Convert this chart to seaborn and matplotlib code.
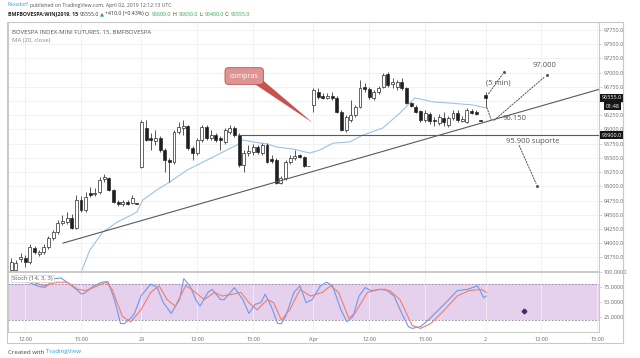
import matplotlib
matplotlib.use("Agg")
import matplotlib.pyplot as plt
from matplotlib.patches import Polygon, Rectangle
from matplotlib.ticker import FuncFormatter
import numpy as np
import seaborn as sns

sns.set_theme(style="white")
plt.rcParams["font.family"] = ["Open Sans", "DejaVu Sans"]

# ------------------------------------------------------------
# data (15 min candles: 28 Mar partial, 29 Mar, 1 Apr, 2 Apr first candle)
# ------------------------------------------------------------
opens = [93525, 93525, 93720, 93735, 93665, 93915, 93810, 93845, 93930, 94090, 94195, 94355, 94370, 94440,
         94265, 94760, 94580, 94880, 94865, 94900, 95130, 95145, 94935, 94725, 94690, 94725, 94705, 94700,
         95340, 96025, 95850, 95795, 95850, 95640, 95460, 95425, 95955, 96025, 96060, 95675, 95585, 95815,
         96045, 95850, 95900, 95850, 95780, 95955, 96025, 95900, 95375, 95585, 95605, 95690, 95585, 95725,
         95480, 95460, 95055, 95145, 95425, 95495, 95550, 95515, 95360,
         96430, 96660, 96590, 96555, 96590, 96555, 96305, 95990, 96165, 96255, 96395, 96745, 96710, 96555,
         96660, 96745, 96975, 96800, 96745, 96835, 96730, 96465, 96395, 96325, 96165, 96270, 96165, 96115,
         96200, 96080, 96200, 96290, 96150, 96130, 96325, 96305, 96165,
         96600]
closes = [93665, 93650, 93755, 93665, 93930, 93845, 93845, 93930, 94090, 94195, 94355, 94390, 94440, 94265,
          94760, 94580, 94810, 94845, 94880, 95110, 95165, 94935, 94725, 94690, 94725, 94690, 94795, 94690,
          96130, 95815, 95815, 95850, 95640, 95460, 95425, 95955, 96045, 96060, 95675, 95585, 95815, 96045,
          95850, 95900, 95815, 95815, 95990, 96025, 95900, 95375, 95585, 95620, 95690, 95605, 95725, 95425,
          95445, 95055, 95145, 95425, 95495, 95530, 95515, 95355, 95355,
          96695, 96570, 96555, 96590, 96555, 96305, 95990, 96220, 96255, 96395, 96730, 96710, 96570, 96660,
          96730, 96960, 96780, 96835, 96835, 96730, 96465, 96410, 96305, 96165, 96290, 96150, 96150, 96220,
          96130, 96200, 96290, 96165, 96185, 96340, 96290, 96270, 96150,
          96555]
highs = [93735, 93700, 93825, 93790, 93985, 93950, 93880, 93985, 94125, 94230, 94405, 94495, 94545, 94510,
         94845, 94830, 94900, 94985, 94970, 95165, 95215, 95165, 94950, 94760, 94760, 94760, 94845, 94705,
         96165, 96165, 95935, 95990, 95885, 95675, 95495, 95990, 96130, 96165, 96080, 95710, 95850, 96080,
         96080, 95990, 95935, 95885, 96025, 96080, 96060, 95935, 95640, 95725, 95745, 95725, 95760, 95760,
         95550, 95495, 95180, 95460, 95550, 95640, 95570, 95530, 95365,
         96730, 96730, 96640, 96640, 96660, 96590, 96340, 96255, 96520, 96430, 96870, 96815, 96745, 96695,
         96765, 96995, 97010, 96905, 96870, 96905, 96745, 96485, 96430, 96340, 96340, 96305, 96220, 96270,
         96305, 96235, 96340, 96340, 96235, 96375, 96360, 96340, 96165,
         96650]
lows = [93510, 93510, 93665, 93580, 93630, 93810, 93770, 93810, 93895, 94055, 94160, 94320, 94335, 94250,
        94250, 94545, 94545, 94810, 94830, 94865, 95075, 94915, 94705, 94650, 94650, 94670, 94690, 94685,
        95320, 95795, 95640, 95725, 95605, 95250, 95075, 95390, 95920, 95900, 95640, 95460, 95550, 95780,
        95815, 95815, 95780, 95640, 95745, 95920, 95865, 95340, 95250, 95530, 95550, 95570, 95550, 95410,
        95410, 95040, 95040, 95110, 95390, 95460, 95495, 95340, 95350,
        96305, 96535, 96535, 96535, 96520, 96290, 95970, 95955, 96130, 96220, 96375, 96660, 96535, 96520,
        96625, 96730, 96745, 96730, 96695, 96695, 96450, 96395, 96290, 96130, 96130, 96095, 96060, 96080,
        96060, 96045, 96165, 96130, 96130, 96115, 96270, 96255, 96150,
        96400]

# MA (20, close)
ma_x = [15.2, 16.9, 19.7, 22.8, 27.0, 28.3, 31.3, 34.1, 36.3, 37.8, 42.1, 46.4, 48.5, 49.8, 52.0,
        55.0, 57.1, 60.6, 64.2, 66.4, 69.2, 72.8, 75.6, 79.9, 83.6, 86.8, 90.7, 94.3, 99.3, 102.3]
ma_val = [93525, 93880, 94195, 94370, 94545, 94760, 94935, 95075, 95200, 95285, 95460, 95640, 95725,
          95815, 95780, 95745, 95690, 95655, 95585, 95640, 95760, 95780, 95900, 96025, 96290, 96555,
          96485, 96465, 96430, 96375]

# Stochastic %K and %D
k_x = [0.2, 2.8, 5.5, 7.2, 9.4, 10.7, 12.5, 14.3, 15.1, 16, 17.8, 19.5, 20.8, 22.2, 23.5, 24.3, 25.7,
       26.5, 27.9, 30, 31.4, 32.7, 34.4, 36.2, 37.1, 38.4, 39.7, 40.6, 42.3, 43.2, 45, 45.8, 48, 49.8,
       51.1, 52.4, 53.7, 54.6, 55.9, 57.3, 58.1, 59, 60.8, 62.1, 63.4, 64.7, 66.5, 67.8, 69.1, 70.9,
       72.2, 73.5, 74.8, 76.1, 77.4, 79.2, 80.5, 82.3, 84, 85.4, 86.2, 88, 89.7, 91.9, 94.1, 95.9, 98.1,
       100.3, 101.6, 102.2]
k_val = [91, 86, 77, 74, 89, 90, 80, 69, 63, 66, 77, 83, 84, 54, 14, 14, 23, 31, 60, 80, 74, 49, 31,
         54, 89, 77, 54, 43, 66, 71, 54, 54, 74, 54, 31, 46, 49, 63, 43, 14, 14, 26, 66, 77, 49, 54, 77,
         83, 77, 37, 17, 26, 60, 74, 69, 71, 71, 60, 31, 9, 6, 9, 20, 37, 54, 69, 71, 77, 57, 60]
d_x = [1.1, 4.6, 7.2, 9.9, 12, 14.3, 16, 18.6, 20.4, 21.7, 23.9, 25.7, 27.9, 30, 31.8, 33.5, 35.3, 37.5,
       38.8, 41.5, 43.7, 45.4, 47.6, 49.4, 51.1, 52.9, 55.1, 56.4, 58.1, 59.9, 62.1, 64.3, 66.9, 68.7,
       70.4, 72.6, 73.9, 76.6, 79.2, 81.4, 83.6, 86.2, 88, 90.2, 93.2, 95.9, 98.5, 101.1, 102.2]
d_val = [94, 83, 77, 83, 83, 71, 69, 77, 83, 71, 26, 17, 37, 66, 77, 54, 43, 77, 71, 54, 66, 60, 63, 66,
         49, 37, 54, 49, 20, 37, 71, 60, 66, 77, 66, 23, 31, 66, 71, 69, 54, 11, 6, 14, 37, 60, 69, 71, 66]

# drawings
trend_x = [11.1, 126.4]
trend_y = [94000, 96705]
support_x = [48.8, 126.4]
support_y = [95900, 95900]

tick_pos = [3, 15, 28, 40, 52, 65, 77, 89, 102, 114, 126]
tick_labels = ["12:00", "15:00", "29", "12:00", "15:00", "Apr", "12:00", "15:00", "2", "12:00", "15:00"]

W, H = 640, 358
fig = plt.figure(figsize=(W / 100, H / 100), dpi=100)
fig.patch.set_facecolor("white")
renderer = fig.canvas.get_renderer()


def fx(px):
    return px / W


def fy(py):
    return 1 - py / H


def text_run(x_px, y_px, parts, size=4.4, gap=1.6):
    # writes pieces of text one after the other on a line
    for txt, color, weight in parts:
        t = fig.text(fx(x_px), fy(y_px), txt, fontsize=size, color=color, fontweight=weight, va="center")
        x_px += t.get_window_extent(renderer=renderer).width + gap


ax = fig.add_axes([fx(8), fy(271), fx(599) - fx(8), fy(22) - fy(271)])
axs = fig.add_axes([fx(8), fy(332), fx(599) - fx(8), fy(272) - fy(332)], sharex=ax)

GRID = "#f0f0f0"
EDGE = "#c9c9c9"
TXT = "#6b6b6b"

# ---------------- candles ----------------
idx = np.arange(len(opens))
o = np.array(opens)
c = np.array(closes)
up = c >= o
ax.vlines(idx, lows, highs, color="#3a3a3a", lw=0.6, zorder=3)
body_h = np.maximum(np.abs(c - o), 10)
ax.bar(idx, body_h, bottom=np.minimum(o, c), width=0.64,
       color=np.where(up, "white", "#1f1f1f"), edgecolor="#2a2a2a", linewidth=0.5, zorder=4)

sns.lineplot(x=ma_x, y=ma_val, ax=ax, color="#9fc2e3", lw=0.8, zorder=2)

ax.plot(trend_x, trend_y, color="#5a5a5a", lw=0.8, zorder=5)
ax.plot(support_x, support_y, color="#5a5a5a", lw=0.8, zorder=5)

# projections
dash = dict(arrowstyle="-", color="#555555", lw=0.7, linestyle=(0, (1.5, 1.5)))
ax.annotate("", xy=(106.0, 97010), xytext=(102.3, 96590), arrowprops=dash, zorder=6)
ax.annotate("", xy=(103.4, 96130), xytext=(102.1, 96430), arrowprops=dash, zorder=6)
ax.annotate("", xy=(115.2, 96960), xytext=(103.4, 96130), arrowprops=dash, zorder=6)
ax.annotate("", xy=(113.1, 95005), xytext=(109.0, 95760), arrowprops=dash, zorder=6)
ax.plot([106.0, 115.2, 113.1], [97010, 96960, 95005], ls="none", marker="o", ms=1.2, color="#555555")

ax.text(114.8, 97060, "97.000", fontsize=5.5, color="#555555", ha="center", va="bottom")
ax.text(104.7, 96810, "(5 min)", fontsize=5.5, color="#555555", ha="center", va="center")
ax.text(108.3, 96200, "96.150", fontsize=5.5, color="#555555", ha="center", va="center")
ax.text(106.5, 95790, "95.900 suporte", fontsize=5.5, color="#555555", ha="left", va="center")

# callout "compras"
ax.add_patch(Polygon([(51.6, 96840), (53.6, 96900), (64.9, 96113)], closed=True,
                     fc="#c9514f", ec="none", zorder=6))
ax.text(50.1, 96940, "compras", fontsize=5, color="white", ha="center", va="center", zorder=7,
        bbox=dict(boxstyle="round,pad=0.7,rounding_size=0.5", fc="#df9393", ec="#bd5454", lw=0.6))

ax.set_xlim(-0.7, 126.4)
ax.set_ylim(93510, 97890)
ax.set_xticks(tick_pos)
ax.yaxis.tick_right()
ax.set_yticks(np.arange(93750, 97751, 250))
ax.yaxis.set_major_formatter(FuncFormatter(lambda v, p: f"{v:.1f}"))
ax.tick_params(axis="y", labelsize=4, colors=TXT, length=2, width=0.5, pad=1.5, color=EDGE)
ax.tick_params(axis="x", length=0, labelbottom=False)
ax.grid(True, color=GRID, lw=0.6)
ax.set_axisbelow(True)
for s in ax.spines.values():
    s.set_color(EDGE)
    s.set_linewidth(0.7)

ax.text(0.007, 0.97, "BOVESPA INDEX-MINI FUTURES, 15, BMFBOVESPA", transform=ax.transAxes,
        fontsize=4.3, color="#555555", va="top")
ax.text(0.007, 0.935, "MA (20, close)", transform=ax.transAxes, fontsize=4.3, color="#888888", va="top")

# price scale boxes
ytr = ax.get_yaxis_transform()
ax.text(1.004, 96555, "96555.0", transform=ytr, fontsize=4, color="white", va="center", ha="left",
        zorder=8, clip_on=False, bbox=dict(boxstyle="square,pad=0.25", fc="#151515", ec="none"))
ax.text(1.011, 96410, "01:48", transform=ytr, fontsize=4, color="white", va="center", ha="left",
        zorder=8, clip_on=False, bbox=dict(boxstyle="square,pad=0.25", fc="#151515", ec="none"))
ax.text(1.004, 95900, "95900.0", transform=ytr, fontsize=4, color="white", va="center", ha="left",
        zorder=8, clip_on=False, bbox=dict(boxstyle="square,pad=0.25", fc="#151515", ec="none"))

# ---------------- stochastic ----------------
axs.axhspan(20, 80, color="#b273c9", alpha=0.33, lw=0, zorder=0)
axs.axhline(80, color="#8d7b92", lw=0.6, ls=(0, (2, 2)))
axs.axhline(20, color="#8d7b92", lw=0.6, ls=(0, (2, 2)))
sns.lineplot(x=k_x, y=k_val, ax=axs, color="#6f9ae6", lw=0.8, zorder=3)
sns.lineplot(x=d_x, y=d_val, ax=axs, color="#ee7f6c", lw=0.8, zorder=3)
axs.plot([110.3], [35], marker="P", ms=3, color="#4b2a5e", ls="none")
axs.text(0.007, 0.93, "Stoch (14, 3, 3)", transform=axs.transAxes, fontsize=4.3, color="#555555",
         va="top", bbox=dict(boxstyle="square,pad=0.2", fc="white", ec="#cfcfcf", lw=0.5))

axs.set_ylim(0, 100)
axs.yaxis.tick_right()
axs.set_yticks([25, 50, 75, 100])
axs.yaxis.set_major_formatter(FuncFormatter(lambda v, p: f"{v:.4f}"))
axs.tick_params(axis="y", labelsize=4, colors=TXT, length=2, width=0.5, pad=1.5, color=EDGE)
axs.set_xticks(tick_pos)
axs.set_xticklabels(tick_labels)
axs.tick_params(axis="x", labelsize=4, colors=TXT, length=2, width=0.5, pad=1.5, color=EDGE)
axs.grid(True, axis="x", color=GRID, lw=0.6)
axs.set_axisbelow(True)
for s in axs.spines.values():
    s.set_color(EDGE)
    s.set_linewidth(0.7)

# outer frame
fig.add_artist(Rectangle((fx(7), fy(343)), fx(623) - fx(7), fy(22) - fy(343), transform=fig.transFigure,
                         fill=False, ec=EDGE, lw=0.8))

# ---------------- header / footer ----------------
text_run(8, 5, [("Rexsdorf", "#2f9be0", "normal"),
                ("published on TradingView.com, April 02, 2019 12:12:13 UTC", "#555555", "normal")],
         size=3.7, gap=1.4)
GREEN = "#2aa64a"
text_run(8, 14, [("BMFBOVESPA:WINJ2019, 15", "#222222", "bold"),
                 ("96555.0", "#333333", "normal"), ("▲", GREEN, "normal"),
                 ("+410.0 (+0.43%)", "#333333", "normal"),
                 ("O:", "#333333", "normal"), ("96600.0", GREEN, "normal"),
                 ("H:", "#333333", "normal"), ("96650.0", GREEN, "normal"),
                 ("L:", "#333333", "normal"), ("96400.0", GREEN, "normal"),
                 ("C:", "#333333", "normal"), ("96555.0", GREEN, "normal")], size=3.8, gap=1.2)

text_run(8, 352, [("Created with", "#444444", "normal"), ("TradingView", "#2f9be0", "normal")])

fig.savefig("out.png", dpi=100)
